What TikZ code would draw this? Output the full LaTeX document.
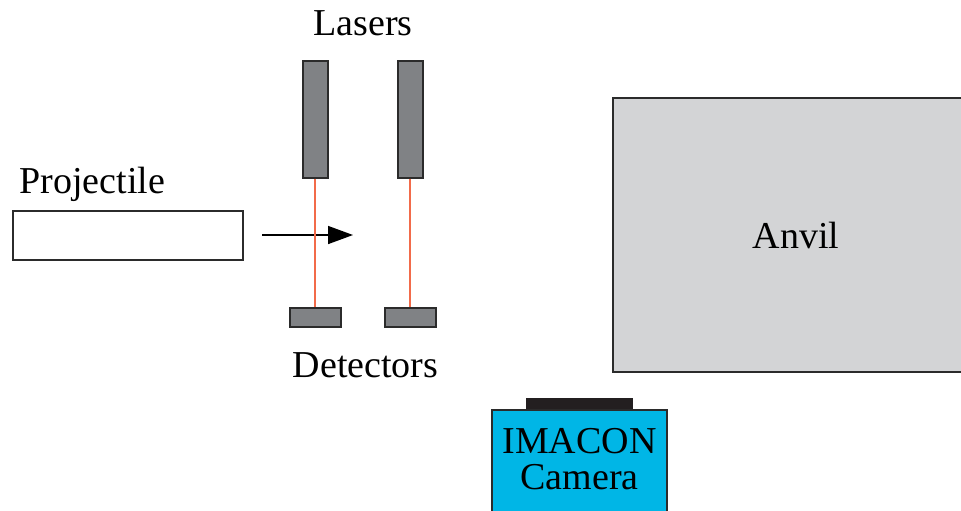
\documentclass[tikz,border=0pt]{standalone}
\usepackage{fontspec}
\setmainfont{Liberation Serif}
\usetikzlibrary{arrows.meta, positioning}
\definecolor{lasergray}{HTML}{808285}
\definecolor{edgegray}{HTML}{2B2B2B}
\definecolor{beamred}{HTML}{F26B4A}
\definecolor{anvilgray}{HTML}{D3D4D6}
\definecolor{imaconcyan}{HTML}{00B6E6}
\definecolor{lensblack}{HTML}{231F20}

\begin{document}
\begin{tikzpicture}[x=0.5pt, y=-0.5pt,
        txt/.style={font=\fontsize{19}{18}\selectfont, inner sep=0pt},
        laser/.style={draw=edgegray, line width=1pt, fill=lasergray, minimum width=12.5pt, minimum height=58.5pt, inner sep=0pt},
        detector/.style={laser, minimum width=25.5pt, minimum height=9.5pt},
        beam/.style={draw=beamred, line width=0.8pt},
        projectile/.style={draw=edgegray, line width=1pt, fill=white, minimum width=115pt, minimum height=24.5pt, inner sep=0pt},
        anvil/.style={txt, draw=edgegray, line width=1pt, fill=anvilgray, minimum width=183pt, minimum height=137pt},
        camera/.style={draw=edgegray, line width=1pt, fill=imaconcyan, minimum width=87.5pt, minimum height=60pt, inner sep=0pt},
        lens/.style={fill=lensblack, minimum width=53.5pt, minimum height=5.5pt, inner sep=0pt},
        shot/.style={-{Triangle[length=12.5pt, width=9pt]}, line width=0.75pt, draw=black}
    ]
    \clip (0,0) rectangle (961,510);

    % Projectile
    \node[projectile] (projectile) at (128, 235) {};
    \node[txt, anchor=base west] (projlabel) at (19, 193) {Projectile};
    \coordinate (shotstart) at (262, 235);
    \coordinate (shotend) at (353, 235);
    \draw[shot] (shotstart) -- (shotend);

    % Lasers and detectors
    \node[laser] (laserA) at (315, 119) {};
    \node[laser] (laserB) at (410, 119) {};
    \node[detector] (detA) at (315, 317.5) {};
    \node[detector] (detB) at (410, 317.5) {};
    \node[txt, anchor=base] (laserslabel) at (363, 35) {Lasers};
    \node[txt, anchor=base] (detlabel) at (365.5, 377) {Detectors};

    % Beams
    \draw[beam] (laserA.south) -- (detA.north);
    \draw[beam] (laserB.south) -- (detB.north);

    % Anvil
    \node[anvil] (anvil) at (796, 235) {Anvil};

    % Camera
    \node[camera, label={[txt, align=center, anchor=north, inner sep=9.5pt]north:IMACON\\Camera}] (camera) at (579.5, 470) {};
    \node[lens, anchor=south] (lens) at (camera.north) {};
\end{tikzpicture}
\end{document}
